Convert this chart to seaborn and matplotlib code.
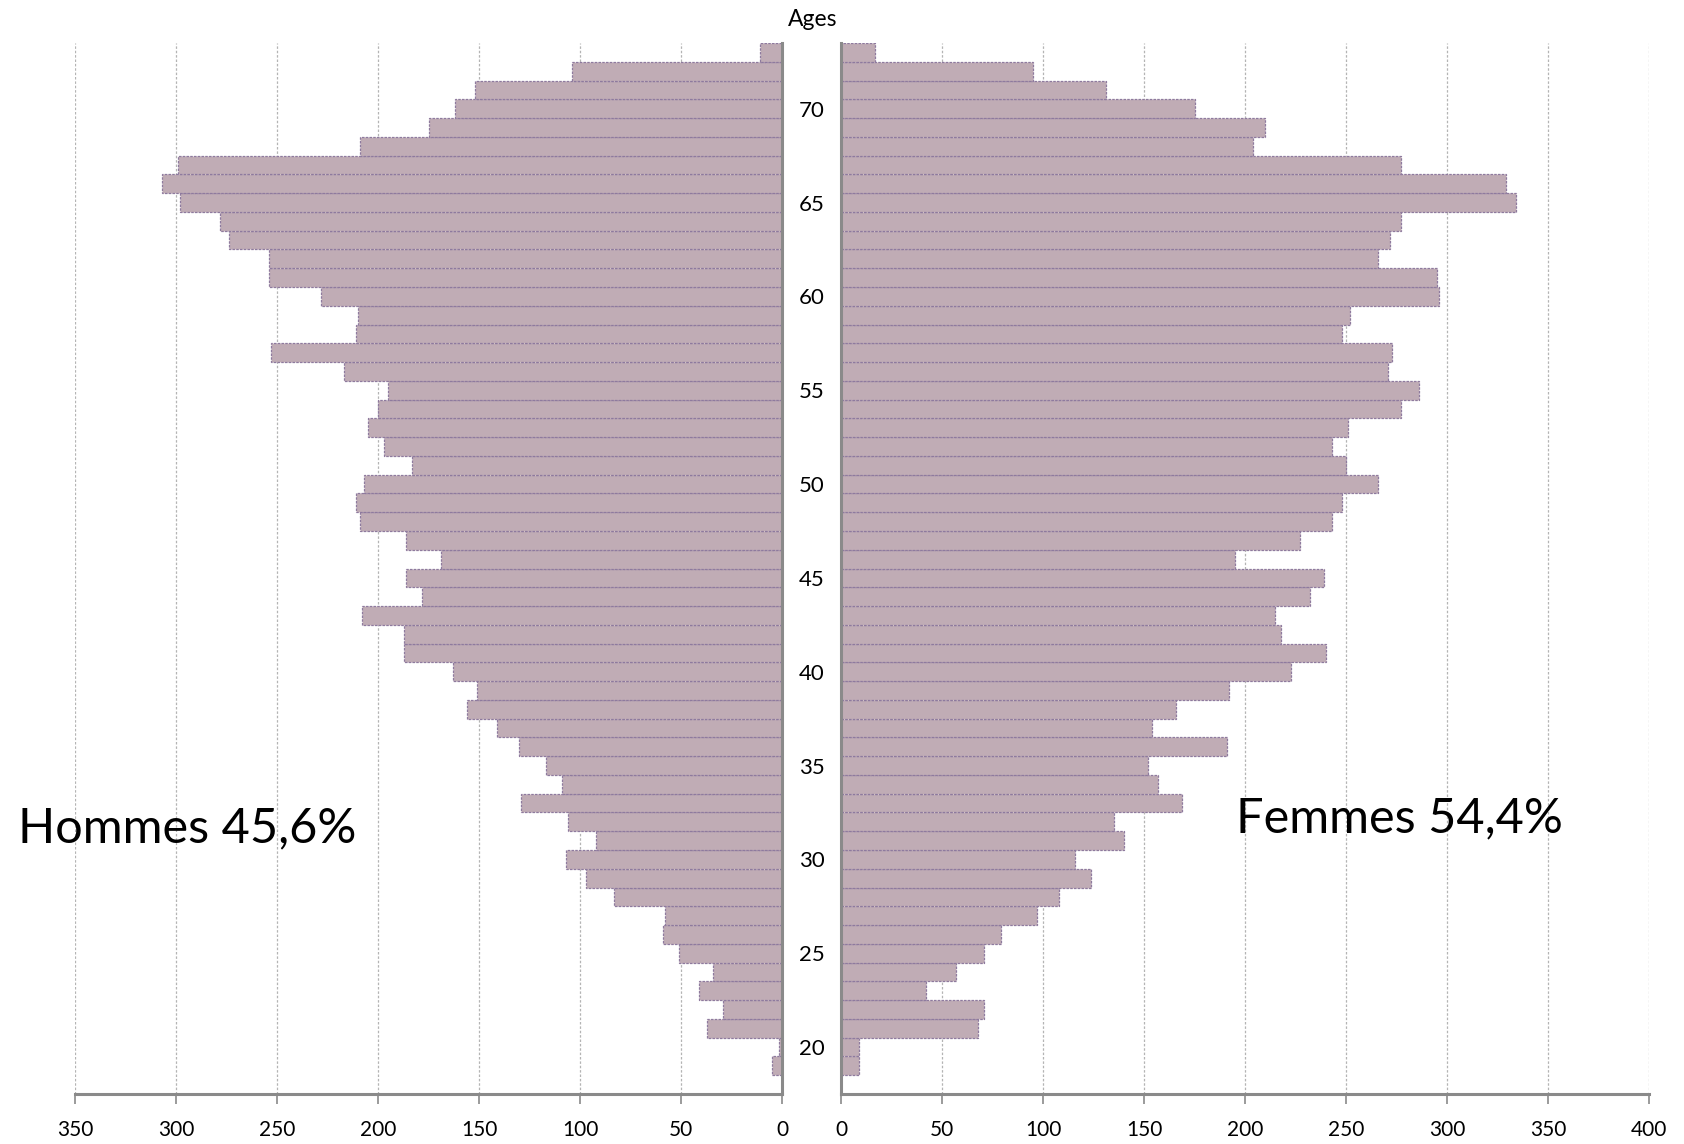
import matplotlib
matplotlib.use("Agg")
import matplotlib.pyplot as plt
import seaborn as sns
import pandas as pd

# Ages 19..73 (bottom to top)
ages = list(range(19, 74))

hommes = [5, 1.5, 37, 29, 41, 34, 51, 59, 58, 83, 97, 107, 92, 106, 129, 109, 117, 130,
          141, 156, 151, 163, 187, 187, 208, 178, 186, 169, 186, 209, 211, 207, 183, 197,
          205, 200, 195, 217, 253, 211, 210, 228, 254, 254, 274, 278, 298, 307, 299, 209,
          175, 162, 152, 104, 11]

femmes = [9, 9, 68, 71, 42, 57, 71, 79, 97, 108, 124, 116, 140, 135, 169, 157, 152, 191,
          154, 166, 192, 223, 240, 218, 215, 232, 239, 195, 227, 243, 248, 266, 250, 243,
          251, 277, 286, 271, 273, 248, 252, 296, 295, 266, 272, 277, 334, 329, 277, 204,
          210, 175, 131, 95, 17]

age_ticks = [20, 25, 30, 35, 40, 45, 50, 55, 60, 65, 70]
left_ticks = [0, 50, 100, 150, 200, 250, 300, 350]
right_ticks = [0, 50, 100, 150, 200, 250, 300, 350, 400]

df = pd.DataFrame({"age": ages, "Hommes": hommes, "Femmes": femmes})

sns.set_theme(style="white")
plt.rcParams["font.family"] = ["Lato", "DejaVu Sans"]
plt.rcParams["text.color"] = "black"
plt.rcParams["xtick.color"] = "black"
plt.rcParams["ytick.color"] = "black"

W, H = 1684, 1144
fig = plt.figure(figsize=(W / 100, H / 100), dpi=100)
fig.patch.set_facecolor("white")

axL = fig.add_axes([75 / W, (H - 1094) / H, (782 - 75) / W, (1094 - 43) / H])
axR = fig.add_axes([841 / W, (H - 1094) / H, (1649 - 841) / W, (1094 - 43) / H])

bar_color = "#c0acb5"
edge_color = "#8e7a9e"
spine_color = "#8a8a8a"
grid_color = "#b4b4b4"

for ax, col in [(axL, "Hommes"), (axR, "Femmes")]:
    ax.set_axisbelow(True)
    sns.barplot(data=df, x=col, y="age", orient="h", native_scale=True, width=1.0,
                color=bar_color, saturation=1, edgecolor=edge_color, linewidth=0.9,
                linestyle=(0, (2, 1)), ax=ax)
    ax.set_ylim(17.5, 73.5)
    ax.set_xlabel("")
    ax.set_ylabel("")
    ax.grid(axis="x", color=grid_color, linestyle=(0, (2, 1.5)), linewidth=0.9)
    ax.grid(axis="y", visible=False)
    ax.tick_params(axis="x", direction="out", length=7, width=1.2, color=spine_color,
                   labelcolor="black", labelsize=15, pad=12, bottom=True)
    for s in ax.spines.values():
        s.set_visible(False)
    ax.spines["bottom"].set_visible(True)
    ax.spines["bottom"].set_color(spine_color)
    ax.spines["bottom"].set_linewidth(2.2)

# Left (men) panel
axL.set_xlim(350, 0)
axL.set_xticks(left_ticks)
axL.set_xticklabels([str(t) for t in left_ticks])
axL.set_yticks([])
axL.spines["right"].set_visible(True)
axL.spines["right"].set_color(spine_color)
axL.spines["right"].set_linewidth(2.2)

# Right (women) panel
axR.set_xlim(0, 400)
axR.set_xticks(right_ticks)
axR.set_xticklabels([str(t) for t in right_ticks])
axR.spines["left"].set_visible(True)
axR.spines["left"].set_color(spine_color)
axR.spines["left"].set_linewidth(2.2)
axR.set_yticks(age_ticks)
axR.set_yticklabels([str(a) for a in age_ticks])
axR.tick_params(axis="y", length=0, labelsize=16, labelcolor="black", pad=21)
for lab in axR.get_yticklabels():
    lab.set_horizontalalignment("center")

fig.text(813 / W, 1 - 20 / H, "Ages", ha="center", va="center", fontsize=16.5, color="black")

fig.text(18 / W, 1 - 828 / H, "Hommes 45,6%", ha="left", va="center", fontsize=35,
         color="black")
fig.text(1236 / W, 1 - 818 / H, "Femmes 54,4%", ha="left", va="center", fontsize=35,
         color="black")

fig.savefig("out.png", dpi=100, facecolor="white")
